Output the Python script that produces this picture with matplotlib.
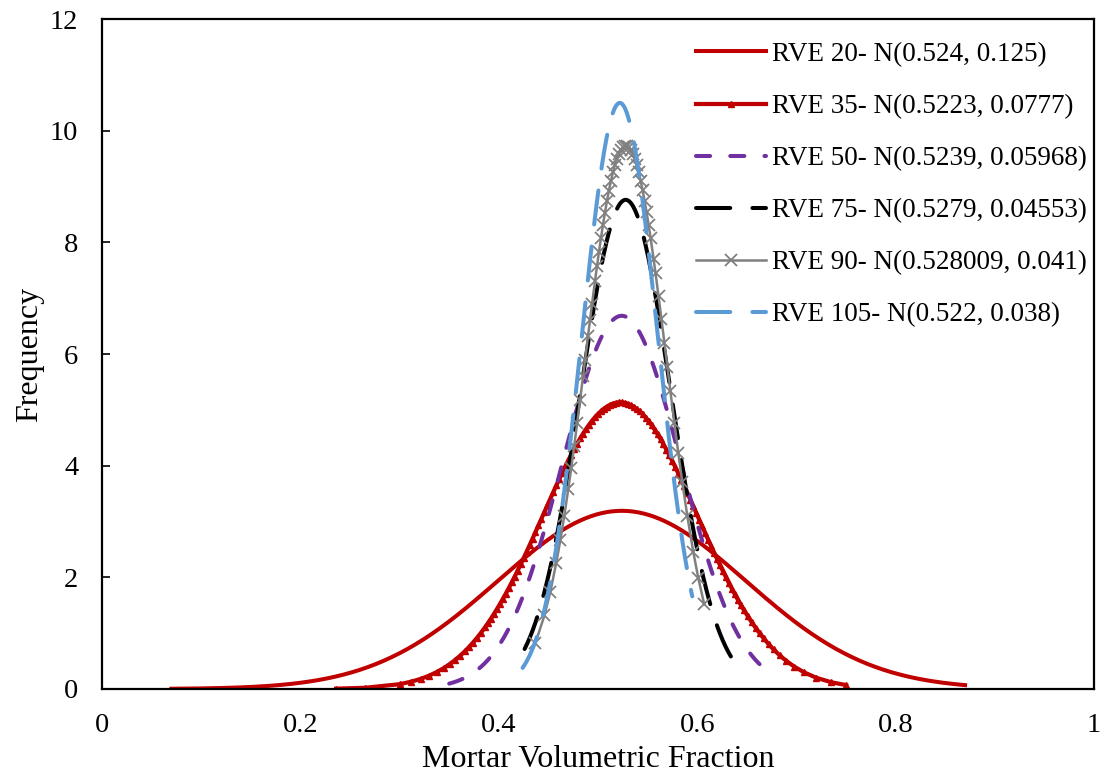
#!/usr/bin/env python
import numpy as np
import matplotlib
matplotlib.use("Agg")
import matplotlib.pyplot as plt

# fitted normal distributions of the mortar fraction for each RVE size
labels = [
    "RVE 20- N(0.524, 0.125)",
    "RVE 35- N(0.5223, 0.0777)",
    "RVE 50- N(0.5239, 0.05968)",
    "RVE 75- N(0.5279, 0.04553)",
    "RVE 90- N(0.528009, 0.041)",
    "RVE 105- N(0.522, 0.038)",
]
means = [0.524, 0.5223, 0.5239, 0.5279, 0.528009, 0.522]
sds = [0.125, 0.0777, 0.05968, 0.04553, 0.041, 0.038]

# range of sampled fractions per RVE size
x_lo = [0.070, 0.236, 0.350, 0.426, 0.437, 0.424]
x_hi = [0.870, 0.750, 0.666, 0.635, 0.607, 0.595]

# sorted sample values for the series drawn with markers
rve35_x = [
    0.236, 0.265, 0.300, 0.312, 0.322, 0.330, 0.338, 0.345, 0.351, 0.356,
    0.361, 0.366, 0.370, 0.374, 0.378, 0.382, 0.386, 0.389, 0.392, 0.395,
    0.398, 0.401, 0.404, 0.407, 0.410, 0.413, 0.416, 0.419, 0.422, 0.425,
    0.428, 0.431, 0.434, 0.437, 0.440, 0.443, 0.446, 0.449, 0.452, 0.455,
    0.458, 0.461, 0.464, 0.467, 0.470, 0.473, 0.476, 0.479, 0.482, 0.485,
    0.488, 0.491, 0.494, 0.497, 0.500, 0.503, 0.506, 0.509, 0.512, 0.515,
    0.518, 0.521, 0.524, 0.527, 0.530, 0.533, 0.536, 0.539, 0.542, 0.545,
    0.548, 0.551, 0.554, 0.557, 0.560, 0.563, 0.566, 0.569, 0.572, 0.575,
    0.578, 0.581, 0.584, 0.587, 0.590, 0.593, 0.596, 0.599, 0.602, 0.605,
    0.608, 0.611, 0.614, 0.617, 0.620, 0.623, 0.626, 0.629, 0.632, 0.635,
    0.638, 0.641, 0.644, 0.647, 0.651, 0.655, 0.659, 0.663, 0.667, 0.672,
    0.677, 0.683, 0.690, 0.698, 0.708, 0.720, 0.735, 0.750,
]
rve90_x = [
    0.437, 0.446, 0.452, 0.458, 0.462, 0.466, 0.470, 0.473, 0.476, 0.479,
    0.482, 0.485, 0.487, 0.490, 0.492, 0.494, 0.497, 0.499, 0.501, 0.503,
    0.505, 0.507, 0.509, 0.511, 0.513, 0.515, 0.517, 0.519, 0.521, 0.523,
    0.525, 0.527, 0.529, 0.531, 0.533, 0.535, 0.537, 0.539, 0.541, 0.543,
    0.545, 0.547, 0.549, 0.551, 0.553, 0.556, 0.558, 0.561, 0.564, 0.567,
    0.570, 0.573, 0.577, 0.581, 0.585, 0.590, 0.596, 0.601, 0.607,
]

colors = ["#C00000", "#C00000", "#7030A0", "#000000", "#808080", "#5B9BD5"]


def normal_pdf(x, mu, sd):
    return np.exp(-0.5 * ((x - mu) / sd) ** 2) / (sd * np.sqrt(2 * np.pi))


def set_font():
    plt.rcParams["font.family"] = ["Liberation Serif", "DejaVu Serif"]
    plt.rcParams["font.size"] = 20.5


def main():
    set_font()
    fig = plt.figure(figsize=(11.07, 7.75), dpi=100)
    ax = fig.add_axes([0.0921, 0.111, 0.8962, 0.8644])

    samples = [None, np.array(rve35_x), None, None, np.array(rve90_x), None]
    styles = [
        dict(ls="-", lw=2.9),
        dict(ls="-", lw=3.0, marker="^", ms=4, mew=1.0),
        dict(lw=2.9, dashes=(3.5, 5.0), dash_capstyle="round"),
        dict(lw=2.9, dashes=(8.5, 5.5), dash_capstyle="round"),
        dict(ls="-", lw=1.8, marker="x", ms=9, mew=1.3),
        dict(lw=2.9, dashes=(8.5, 5.5), dash_capstyle="round"),
    ]

    for i in range(len(labels)):
        if samples[i] is not None:
            x = samples[i]
        else:
            x = np.linspace(x_lo[i], x_hi[i], 300)
        ax.plot(x, normal_pdf(x, means[i], sds[i]), color=colors[i],
                label=labels[i], **styles[i])

    ax.set_xlim(0, 1)
    ax.set_ylim(0, 12)
    ax.set_xticks(np.arange(0, 1.01, 0.2))
    ax.set_xticklabels(["0", "0.2", "0.4", "0.6", "0.8", "1"])
    ax.set_yticks(np.arange(0, 13, 2))
    ax.tick_params(axis="y", direction="in", length=6, width=1.2, pad=17)
    ax.tick_params(axis="x", length=0, pad=17)
    for s in ax.spines.values():
        s.set_linewidth(1.6)

    ax.set_xlabel("Mortar Volumetric Fraction", fontsize=23, labelpad=5)
    ax.set_ylabel("Frequency", fontsize=23, labelpad=4)

    ax.legend(loc="upper right", bbox_to_anchor=(1.004, 0.982),
              frameon=False, fontsize=19.5, handlelength=2.6,
              labelspacing=1.0, handletextpad=0.22, borderaxespad=0)

    plt.savefig("out.png", dpi=100)


if __name__ == "__main__":
    main()
